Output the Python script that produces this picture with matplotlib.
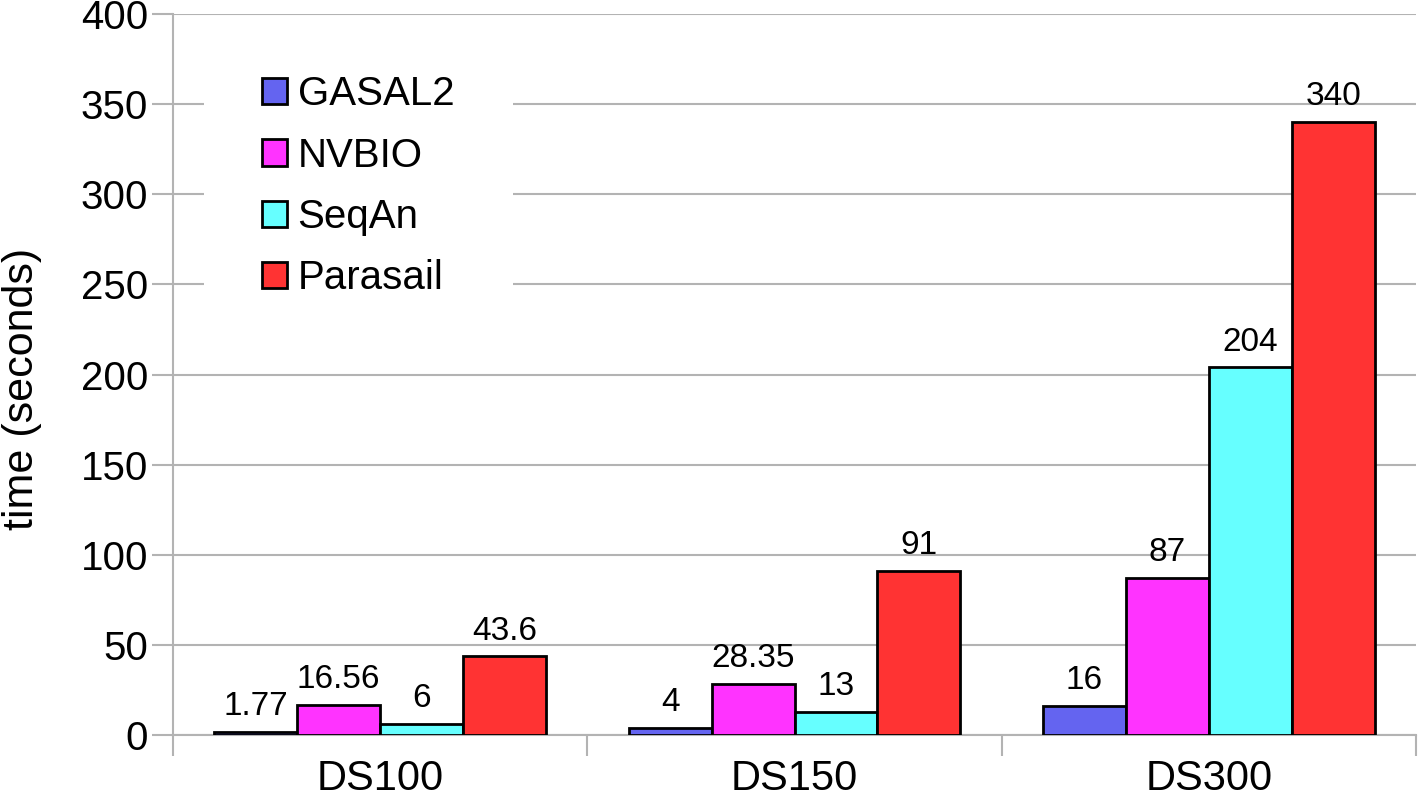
import numpy as np
import matplotlib
matplotlib.use("Agg")
import matplotlib.pyplot as plt

datasets = ["DS100", "DS150", "DS300"]
tools = ["GASAL2", "NVBIO", "SeqAn", "Parasail"]
gasal2 = [1.77, 4, 16]
nvbio = [16.56, 28.35, 87]
seqan = [6, 13, 204]
parasail = [43.6, 91, 340]
labels = [["1.77", "4", "16"], ["16.56", "28.35", "87"], ["6", "13", "204"], ["43.6", "91", "340"]]
colors = ["#6464f0", "#ff33ff", "#66ffff", "#ff3333"]

plt.rcParams["font.family"] = ["Liberation Sans", "DejaVu Sans"]
GRID = "#b3b3b3"

fig = plt.figure(figsize=(14.18, 7.96), dpi=100)
ax = fig.add_axes([0.122, 0.0766, 0.8766, 0.9058])

x = np.arange(len(datasets))
w = 0.2
series = [gasal2, nvbio, seqan, parasail]
for i, (vals, name, col) in enumerate(zip(series, tools, colors)):
    bars = ax.bar(x + (i - 1.5) * w, vals, w, color=col, edgecolor="black",
                  linewidth=2, label=name, zorder=3)
    ax.bar_label(bars, labels=labels[i], padding=7, fontsize=24)

ax.set_xlim(-0.5, 2.5)
ax.set_ylim(0, 400)
ax.set_yticks(range(0, 401, 50))
ax.yaxis.grid(True, color=GRID, lw=1.5, zorder=0)
ax.set_axisbelow(True)

ax.set_xticks(x)
ax.set_xticklabels(datasets, fontsize=30)
ax.set_xticks([-0.5, 0.5, 1.5, 2.5], minor=True)
ax.tick_params(axis="x", which="major", length=0, pad=17)
ax.tick_params(axis="x", which="minor", length=15, width=1.5, color=GRID)
ax.tick_params(axis="y", length=15, width=1.5, color=GRID, labelsize=29, pad=3)

for s in ["top", "right"]:
    ax.spines[s].set_visible(False)
for s in ["left", "bottom"]:
    ax.spines[s].set_color(GRID)
    ax.spines[s].set_linewidth(1.5)

ax.set_ylabel("time (seconds)", fontsize=31)
ax.yaxis.set_label_coords(-0.105, 0.48)

leg = ax.legend(loc="upper left", bbox_to_anchor=(0.025, 0.996), fontsize=29,
                frameon=True, fancybox=False, framealpha=1, edgecolor="white",
                handlelength=0.62, handleheight=0.62, handletextpad=0.25,
                labelspacing=0.58, borderpad=1.45, borderaxespad=0)
leg.get_frame().set_linewidth(0)

fig.savefig("out.png", dpi=100)
